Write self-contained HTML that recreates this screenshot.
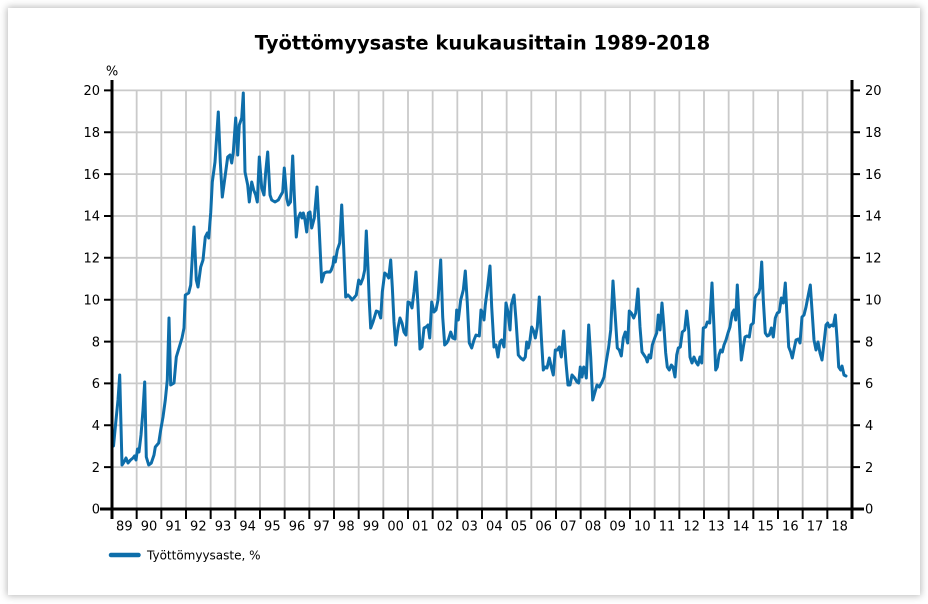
<!DOCTYPE html>
<html>
<head>
<meta charset="utf-8">
<style>
  html, body { margin:0; padding:0; background:#fff; }
  body { width:928px; height:604px; position:relative; overflow:hidden; }
  .card { position:absolute; left:8px; top:8px; width:912px; height:587px; background:#fff;
          box-shadow:0 0 7px 1px rgba(0,0,0,0.28); }
  svg { position:absolute; left:0; top:0; }
  text { font-family:"DejaVu Sans","Liberation Sans",sans-serif; fill:#000; }
</style>
</head>
<body>
<div class="card"></div>
<svg width="928" height="604" viewBox="0 0 928 604" xmlns="http://www.w3.org/2000/svg">
  <text x="482.5" y="49.5" text-anchor="middle" font-size="19.5" font-weight="bold" style="font-family:'DejaVu Sans','Liberation Sans',sans-serif">Työttömyysaste kuukausittain 1989-2018</text>

  <!-- grid -->
  <g stroke="#cacaca" stroke-width="1.8" fill="none">
    <path d="M112 90.4H852M112 132.3H852M112 174.1H852M112 216H852M112 257.8H852M112 299.7H852M112 341.6H852M112 383.4H852M112 425.3H852M112 467.1H852"/>
    <path d="M136.67 90.4V509M161.33 90.4V509M186 90.4V509M210.67 90.4V509M235.33 90.4V509M260 90.4V509M284.67 90.4V509M309.33 90.4V509M334 90.4V509M358.67 90.4V509M383.33 90.4V509M408 90.4V509M432.67 90.4V509M457.33 90.4V509M482 90.4V509M506.67 90.4V509M531.33 90.4V509M556 90.4V509M580.67 90.4V509M605.33 90.4V509M630 90.4V509M654.67 90.4V509M679.33 90.4V509M704 90.4V509M728.67 90.4V509M753.33 90.4V509M778 90.4V509M802.67 90.4V509M827.33 90.4V509"/>
  </g>

  <!-- series -->
  <polyline fill="none" stroke="#0e6eaa" stroke-width="3" stroke-linejoin="round" stroke-linecap="round" points="
112,435 113.5,446 116,420 118,400 119.7,375 122,465 124,462 126,458 128,463 130.5,460 133,458 134.5,456 136,460 137.5,449 139,452 141,435 143,410 144.7,382 146.3,457 148.7,465 151.3,463 154,455 155.3,447 158.7,443 160.7,430 163,417 165.3,400 167.3,380 169,318 170.7,385 174,383 176.3,357 179,348 182,338 184,328 185.3,295 188.7,293 190.7,285 194,227 196.3,280 198,287 200.7,267 203,260 205.3,237 207.3,233 208.7,238 210.7,213 212.3,182 215,162 218.3,112 220.3,162 222.3,197 225,177 227.7,157 230,155 231.7,163 233.3,152 235.7,118 237.7,155 239.3,125 241.7,118 243.3,93 245,172 247.7,185 249.3,202 251.7,182 253.7,190 255.7,195 257.3,202 259.3,157 261.7,188 264,195 265.7,172 267.7,152 270,195 271.7,200 275,202 278.3,200 281,195 282.7,192 284.3,168 286.7,198 288.3,205 290.5,202 292.7,156 294.3,195 296.3,237 298.3,218 300.3,213 302,218 303.3,213 305,220 306.7,232 308.3,213 310,212 311.7,228 314.3,218 317,187 319,225 321.7,282 324.3,273 326.7,272 330,272 331.3,270 333,265 334,257 335.3,262 337.3,250 339.7,243 341.7,205 343.7,248 345.7,297 348,295 350,297 352,300 354.7,297 356.3,295 358.7,280 360.7,284 363,278 364.7,270 366.3,231 368,268 369.3,302 370.7,328 373,322 376.3,311 378.7,312 380.7,318 382.3,292 384.7,273 387,275 388.7,278 390.7,260 392.3,287 394,322 395.7,345 398,328 400,318 402,323 404,332 406,335 408,302 410.3,303 412,308 414,292 416,272 418,305 420,349 422,347 424,328 426,327 428,325 429.7,338 431.7,302 434,312 436,310 438,300 440.7,260 442.7,317 444.7,345 446.7,343 448.3,340 450.7,332 452.7,338 455,339 456.7,310 458.3,320 460.7,300 463.3,290 465.3,271 467.3,303 469.3,343 471.7,348 474,340 476,335 479.3,336 481,310 482.7,313 484,320 485.3,305 487.3,290 490,266 491.7,307 494,347 496,345 498,357 500,342 501.7,340 504,347 506,303 508,312 510,330 511.3,305 514,295 516,320 518.3,355 520.7,358 523.3,360 525.3,357 526.7,342 528.3,348 530,340 531.7,327 534,332 535.3,338 537.3,327 539.3,297 541.3,337 543.3,370 545,367 547,368 549.3,358 551.3,367 553.3,375 555.3,350 557.3,350 559.3,347 561.3,357 563.7,331 566,363 568,385 570,385 572,375 574.7,378 577,382 578.7,383 580.3,367 582,377 583.7,367 585,370 586.3,378 588.7,325 590.7,357 592.7,400 594.7,393 597,385 599.3,387 602,382 604,377 606,363 608.7,347 610.7,330 613,281 615.3,317 617.3,348 619.3,350 621.3,356 623.3,338 625.3,332 627.7,343 629.3,311 631.3,313 633.7,318 635.7,313 638,289 640,327 642,352 644,355 646,358 647.3,362 649,355 650.7,358 652.3,345 654.7,338 656.7,333 658.3,315 660,330 662,303 664,328 665.7,353 667.3,367 669.3,370 671.3,365 673,367 675,377 676.7,355 678.3,348 680.3,347 682.3,332 684.7,330 686.7,311 688.7,330 690,357 692,363 694,357 696,362 698,365 700,357 701.7,363 703.3,328 705.7,327 707.3,322 709.7,323 712,283 714,328 715.7,370 717.3,367 719,355 720.7,350 722.3,352 724,345 726,340 728,333 730,327 732.3,313 734,310 735.7,320 737.3,285 739.3,323 741.3,360 743.3,347 745,337 747,336 749.3,337 751,325 753.3,323 755,298 756.7,295 758.7,293 760,288 761.7,262 763.3,300 765.3,333 767.3,336 769.3,335 771.3,328 773.3,337 775.3,318 777.3,313 779.3,312 781.3,298 783.3,303 785.3,283 786.7,310 788.7,347 790.7,352 792.3,358 794.3,348 796,340 798.3,339 800,343 802,317 804,315 806,307 808.3,295 810.3,285 812,310 814,340 816,350 818,342 820,353 822,360 824,343 826,325 827.7,323 829.3,327 831.3,325 833.3,326 835.3,315 837,338 838.7,367 840.7,370 842,366 844,375 846,376"/>

  <!-- axes -->
  <g stroke="#000" fill="none">
    <path stroke-width="3" d="M112 80V519M852 80V519M100 509H864"/>
    <path stroke-width="2" d="M104 90.4H112M104 132.3H112M104 174.1H112M104 216H112M104 257.8H112M104 299.7H112M104 341.6H112M104 383.4H112M104 425.3H112M104 467.1H112"/>
    <path stroke-width="2" d="M852 90.4H860M852 132.3H860M852 174.1H860M852 216H860M852 257.8H860M852 299.7H860M852 341.6H860M852 383.4H860M852 425.3H860M852 467.1H860"/>
    <path stroke-width="2" d="M136.67 509V519M161.33 509V519M186 509V519M210.67 509V519M235.33 509V519M260 509V519M284.67 509V519M309.33 509V519M334 509V519M358.67 509V519M383.33 509V519M408 509V519M432.67 509V519M457.33 509V519M482 509V519M506.67 509V519M531.33 509V519M556 509V519M580.67 509V519M605.33 509V519M630 509V519M654.67 509V519M679.33 509V519M704 509V519M728.67 509V519M753.33 509V519M778 509V519M802.67 509V519M827.33 509V519"/>
  </g>

  <!-- left labels -->
  <g font-size="13" text-anchor="end">
    <text x="100" y="95.1">20</text>
    <text x="100" y="137">18</text>
    <text x="100" y="178.8">16</text>
    <text x="100" y="220.7">14</text>
    <text x="100" y="262.5">12</text>
    <text x="100" y="304.4">10</text>
    <text x="100" y="346.3">8</text>
    <text x="100" y="388.1">6</text>
    <text x="100" y="430">4</text>
    <text x="100" y="471.8">2</text>
    <text x="100" y="513.7">0</text>
  </g>
  <!-- right labels -->
  <g font-size="13" text-anchor="start">
    <text x="865" y="95.1">20</text>
    <text x="865" y="137">18</text>
    <text x="865" y="178.8">16</text>
    <text x="865" y="220.7">14</text>
    <text x="865" y="262.5">12</text>
    <text x="865" y="304.4">10</text>
    <text x="865" y="346.3">8</text>
    <text x="865" y="388.1">6</text>
    <text x="865" y="430">4</text>
    <text x="865" y="471.8">2</text>
    <text x="865" y="513.7">0</text>
  </g>
  <text x="112" y="75.5" font-size="13" text-anchor="middle">%</text>

  <!-- year labels -->
  <g font-size="13" text-anchor="middle">
    <text x="124.33" y="530.5">89</text>
    <text x="149" y="530.5">90</text>
    <text x="173.67" y="530.5">91</text>
    <text x="198.33" y="530.5">92</text>
    <text x="223" y="530.5">93</text>
    <text x="247.67" y="530.5">94</text>
    <text x="272.33" y="530.5">95</text>
    <text x="297" y="530.5">96</text>
    <text x="321.67" y="530.5">97</text>
    <text x="346.33" y="530.5">98</text>
    <text x="371" y="530.5">99</text>
    <text x="395.67" y="530.5">00</text>
    <text x="420.33" y="530.5">01</text>
    <text x="445" y="530.5">02</text>
    <text x="469.67" y="530.5">03</text>
    <text x="494.33" y="530.5">04</text>
    <text x="519" y="530.5">05</text>
    <text x="543.67" y="530.5">06</text>
    <text x="568.33" y="530.5">07</text>
    <text x="593" y="530.5">08</text>
    <text x="617.67" y="530.5">09</text>
    <text x="642.33" y="530.5">10</text>
    <text x="667" y="530.5">11</text>
    <text x="691.67" y="530.5">12</text>
    <text x="716.33" y="530.5">13</text>
    <text x="741" y="530.5">14</text>
    <text x="765.67" y="530.5">15</text>
    <text x="790.33" y="530.5">16</text>
    <text x="815" y="530.5">17</text>
    <text x="839.67" y="530.5">18</text>
  </g>

  <!-- legend -->
  <line x1="111" y1="555" x2="138.5" y2="555" stroke="#0e6eaa" stroke-width="4.5" stroke-linecap="round"/>
  <text x="147" y="559.5" font-size="12">Työttömyysaste, %</text>
</svg>
</body>
</html>
